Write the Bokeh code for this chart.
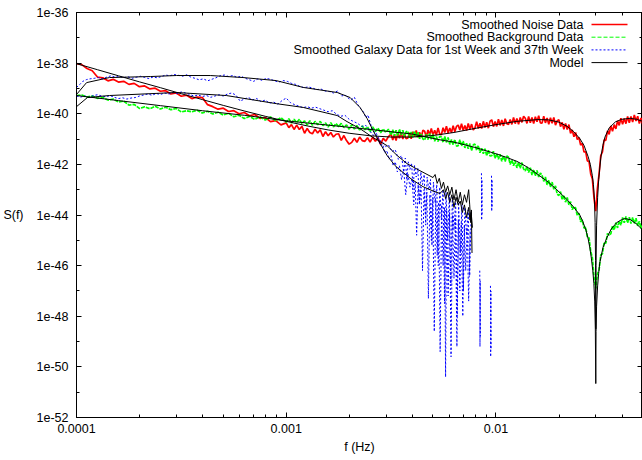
import numpy as np
from bokeh.plotting import figure
from bokeh.models import FixedTicker, Label, Arrow, LogAxis, Range1d
from bokeh.embed import file_html
from bokeh.resources import INLINE

nan = float("nan")

# ---------------- tick labels ----------------
x_tick_values = [1e-4, 1e-3, 1e-2]
x_tick_labels = ["0.0001", "0.001", "0.01"]
x_minor_ticks = [2e-4, 3e-4, 4e-4, 5e-4, 6e-4, 7e-4, 8e-4, 9e-4,
                 2e-3, 3e-3, 4e-3, 5e-3, 6e-3, 7e-3, 8e-3, 9e-3,
                 2e-2, 3e-2, 4e-2, 5e-2]
y_tick_values = [1e-36, 1e-38, 1e-40, 1e-42, 1e-44, 1e-46, 1e-48, 1e-50, 1e-52]
y_tick_labels = ["1e-36", "1e-38", "1e-40", "1e-42", "1e-44", "1e-46", "1e-48", "1e-50", "1e-52"]
y_minor_ticks = [1e-37, 1e-39, 1e-41, 1e-43, 1e-45, 1e-47, 1e-49, 1e-51]

series_names = ["Smoothed Noise Data", "Smoothed Background Data",
                "Smoothed Galaxy Data for 1st Week and 37th Week", "Model"]

# ---------------- smoothed data (log10 f, log10 S) ----------------
data_logf = [
    -4.000, -3.975, -3.950, -3.925, -3.900, -3.875, -3.850, -3.825, -3.800, -3.775,
    -3.750, -3.725, -3.700, -3.675, -3.650, -3.625, -3.600, -3.575, -3.550, -3.525,
    -3.500, -3.475, -3.450, -3.425, -3.400, -3.375, -3.350, -3.325, -3.300, -3.275,
    -3.250, -3.225, -3.200, -3.175, -3.150, -3.125, -3.100, -3.075, -3.050, -3.025,
    -3.0000, -2.9875, -2.9750, -2.9625, -2.9500, -2.9375, -2.9250, -2.9125, -2.9000, -2.8875,
    -2.8750, -2.8625, -2.8500, -2.8375, -2.8250, -2.8125, -2.8000, -2.7875, -2.7750, -2.7625,
    -2.7500, -2.7375, -2.7250, -2.7125, -2.7000, -2.6875, -2.6750, -2.6625, -2.6500, -2.6375,
    -2.6250, -2.6125, -2.6000, -2.5875, -2.5750, -2.5625, -2.5500, -2.5375, -2.5250, -2.5125,
    -2.500, -2.492, -2.484, -2.476, -2.468, -2.460, -2.452, -2.444, -2.436, -2.428,
    -2.420, -2.412, -2.404, -2.396, -2.388, -2.380, -2.372, -2.364, -2.356, -2.348,
    -2.340, -2.332, -2.324, -2.316, -2.308, -2.300, -2.292, -2.284, -2.276, -2.268,
    -2.260, -2.252, -2.244, -2.236, -2.228, -2.220, -2.212, -2.204, -2.196, -2.188,
    -2.180, -2.172, -2.164, -2.156, -2.148, -2.140, -2.132, -2.124, -2.116, -2.108,
    -2.100, -2.092, -2.084, -2.076, -2.068, -2.060, -2.052, -2.044, -2.036, -2.028,
    -2.020, -2.012, -2.004, -1.996, -1.988, -1.980, -1.972, -1.964, -1.956, -1.948,
    -1.940, -1.932, -1.924, -1.916, -1.908, -1.900, -1.892, -1.884, -1.876, -1.868,
    -1.860, -1.852, -1.844, -1.836, -1.828, -1.820, -1.812, -1.804, -1.796, -1.788,
    -1.780, -1.772, -1.764, -1.756, -1.748, -1.740, -1.732, -1.724, -1.716, -1.708,
    -1.700, -1.692, -1.684, -1.676, -1.668, -1.660, -1.652, -1.644, -1.636, -1.628,
    -1.620, -1.612, -1.604, -1.596, -1.588, -1.580, -1.572, -1.564, -1.556, -1.548,
    -1.540, -1.532, -1.524, -1.516, -1.508, -1.500, -1.492, -1.484, -1.476, -1.468,
    -1.460, -1.452, -1.444, -1.436, -1.428, -1.420, -1.412, -1.404, -1.396, -1.388,
    -1.380, -1.372, -1.364, -1.356, -1.348, -1.340, -1.332, -1.324, -1.316, -1.308,
    -1.300,
]

noise_logS = [
    -38.02, -38.06, -38.21, -38.30, -38.55, -38.58, -38.70, -38.64, -38.75, -38.72,
    -38.84, -38.80, -38.93, -38.90, -39.02, -38.99, -39.11, -39.09, -39.22, -39.18,
    -39.31, -39.27, -39.40, -39.34, -39.36, -39.64, -39.72, -39.82, -39.78, -39.91,
    -39.88, -40.00, -39.95, -40.08, -40.03, -40.18, -40.15, -40.31, -40.27, -40.44,
    -40.36, -40.55, -40.43, -40.62, -40.45, -40.62, -40.50, -40.77, -40.58, -40.74,
    -40.79, -40.61, -40.76, -40.63, -40.90, -40.71, -40.87, -40.74, -40.92, -40.81,
    -40.79, -41.05, -40.86, -41.06, -41.20, -41.13, -40.97, -41.13, -40.92, -41.06,
    -41.09, -40.95, -41.12, -40.92, -41.09, -40.95, -41.21, -40.97, -41.08, -40.90,
    -40.80, -41.04, -40.83, -41.06, -40.78, -40.97, -40.73, -41.00, -40.80, -40.99,
    -40.96, -40.75, -40.99, -40.71, -40.90, -40.66, -40.93, -40.73, -40.93, -40.65,
    -40.69, -40.92, -40.64, -40.83, -40.58, -40.85, -40.65, -40.84, -40.56, -40.80,
    -40.83, -40.55, -40.74, -40.49, -40.76, -40.56, -40.75, -40.47, -40.71, -40.50,
    -40.45, -40.64, -40.39, -40.66, -40.46, -40.66, -40.38, -40.62, -40.41, -40.64,
    -40.56, -40.31, -40.58, -40.38, -40.58, -40.30, -40.54, -40.34, -40.57, -40.29,
    -40.24, -40.51, -40.31, -40.50, -40.22, -40.46, -40.25, -40.48, -40.20, -40.39,
    -40.42, -40.23, -40.42, -40.15, -40.39, -40.19, -40.42, -40.15, -40.34, -40.10,
    -40.18, -40.38, -40.11, -40.36, -40.15, -40.39, -40.12, -40.32, -40.08, -40.36,
    -40.37, -40.10, -40.36, -40.17, -40.42, -40.16, -40.38, -40.15, -40.45, -40.28,
    -40.23, -40.51, -40.34, -40.61, -40.38, -40.62, -40.43, -40.77, -40.64, -40.91,
    -40.74, -41.02, -40.94, -41.24, -41.17, -41.51, -41.50, -41.86, -41.88, -42.38,
    -42.58, -43.35, -43.85, -42.95, -42.37, -41.65, -41.51, -41.03, -41.05, -40.68,
    -40.81, -40.48, -40.69, -40.43, -40.60, -40.28, -40.46, -40.18, -40.42, -40.19,
    -40.39, -40.11, -40.36, -40.11, -40.33, -40.05, -40.29, -40.10, -40.39, -40.17,
    -40.42,
]

background_logS = [
    -39.28, -39.26, -39.34, -39.30, -39.39, -39.36, -39.46, -39.42, -39.54, -39.50,
    -39.66, -39.63, -39.79, -39.73, -39.80, -39.70, -39.81, -39.74, -39.84, -39.79,
    -39.93, -39.88, -39.92, -39.86, -39.97, -39.90, -40.01, -39.94, -40.05, -39.98,
    -40.12, -40.06, -40.19, -40.11, -40.22, -40.12, -40.25, -40.13, -40.27, -40.16,
    -40.33, -40.20, -40.37, -40.22, -40.35, -40.22, -40.39, -40.28, -40.45, -40.27,
    -40.46, -40.30, -40.43, -40.30, -40.47, -40.36, -40.53, -40.35, -40.52, -40.39,
    -40.51, -40.38, -40.55, -40.44, -40.61, -40.43, -40.60, -40.47, -40.64, -40.48,
    -40.63, -40.52, -40.70, -40.52, -40.70, -40.57, -40.75, -40.60, -40.74, -40.61,
    -40.84, -40.63, -40.88, -40.65, -40.86, -40.61, -40.84, -40.65, -40.90, -40.71,
    -40.69, -40.95, -40.72, -40.93, -40.69, -40.92, -40.73, -40.99, -40.80, -41.00,
    -41.04, -40.81, -41.02, -40.78, -41.01, -40.82, -41.09, -40.90, -41.10, -40.89,
    -40.92, -41.13, -40.90, -41.13, -40.94, -41.21, -41.02, -41.22, -41.02, -41.28,
    -41.26, -41.03, -41.27, -41.08, -41.35, -41.17, -41.38, -41.18, -41.45, -41.23,
    -41.20, -41.44, -41.26, -41.54, -41.36, -41.58, -41.38, -41.66, -41.44, -41.67,
    -41.66, -41.48, -41.76, -41.58, -41.80, -41.60, -41.88, -41.66, -41.89, -41.67,
    -41.72, -42.00, -41.83, -42.05, -41.86, -42.14, -41.92, -42.15, -41.93, -42.18,
    -42.26, -42.09, -42.32, -42.13, -42.42, -42.21, -42.45, -42.24, -42.50, -42.34,
    -42.43, -42.67, -42.50, -42.81, -42.63, -42.89, -42.70, -42.98, -42.85, -43.17,
    -43.23, -43.08, -43.40, -43.22, -43.49, -43.31, -43.60, -43.47, -43.79, -43.67,
    -43.72, -44.02, -43.93, -44.27, -44.19, -44.52, -44.48, -44.88, -44.90, -45.43,
    -45.70, -46.47, -46.90, -46.34, -46.15, -45.58, -45.53, -45.08, -45.12, -44.73,
    -44.80, -44.74, -44.42, -44.59, -44.30, -44.51, -44.24, -44.40, -44.10, -44.31,
    -44.06, -44.31, -44.09, -44.34, -44.10, -44.34, -44.13, -44.43, -44.25, -44.54,
    -44.38,
]

# galaxy, week 1 (upper at low f)
galaxy1_logf = [
    -4.000, -3.985, -3.970, -3.952, -3.935, -3.915, -3.895, -3.875, -3.855, -3.835,
    -3.815, -3.795, -3.775, -3.755, -3.735, -3.715, -3.695, -3.675, -3.655, -3.635,
    -3.615, -3.595, -3.575, -3.555, -3.535, -3.515, -3.495, -3.475, -3.455, -3.435,
    -3.415, -3.395, -3.375, -3.355, -3.335, -3.315, -3.295, -3.275, -3.255, -3.235,
    -3.215, -3.195, -3.175, -3.155, -3.135, -3.115, -3.095, -3.075, -3.055, -3.035,
    -3.015, -2.995, -2.975, -2.955, -2.935, -2.915, -2.895, -2.875, -2.855, -2.835,
    -2.815, -2.795, -2.775, -2.755, -2.735, -2.720, -2.705, -2.690, -2.675, -2.660,
    -2.645, -2.630, -2.620, -2.610, -2.600, -2.590, -2.580, -2.570, -2.560, -2.550,
    -2.540, -2.530, -2.520, -2.510, -2.500, -2.490, -2.480, -2.470, -2.460, -2.450,
    -2.440, -2.430, -2.420, -2.410, -2.400, -2.392, -2.385, -2.378, -2.371, -2.364,
    -2.357, -2.350, -2.343, -2.336, -2.329, -2.322, -2.315, -2.308, -2.301, -2.294,
    -2.287, -2.280, -2.273, -2.266, -2.259, -2.252, -2.245, -2.240, -2.235, -2.228,
    -2.221, -2.214, -2.207, -2.200, -2.193, -2.186, -2.179, -2.172, -2.165, -2.158,
    -2.151, -2.144, -2.137, -2.130, -2.123, nan, -2.077, -2.076, -2.075, -2.074,
    nan, -2.026, -2.025, -2.024, -2.023,
]
galaxy1_logS = [
    -38.96, -38.85, -38.72, -38.65, -38.62, -38.60, -38.57, -38.62, -38.55, -38.50,
    -38.56, -38.52, -38.58, -38.54, -38.60, -38.56, -38.52, -38.57, -38.61, -38.55,
    -38.58, -38.53, -38.47, -38.50, -38.45, -38.48, -38.52, -38.46, -38.55, -38.60,
    -38.66, -38.62, -38.70, -38.64, -38.58, -38.50, -38.47, -38.53, -38.49, -38.56,
    -38.52, -38.60, -38.66, -38.72, -38.62, -38.68, -38.60, -38.64, -38.70, -38.75,
    -38.69, -38.72, -38.80, -38.84, -38.92, -38.97, -38.94, -38.98, -39.05, -39.02,
    -39.10, -39.12, -39.18, -39.10, -39.30, -39.25, -39.38, -39.45, -39.35, -39.62,
    -39.80, -39.95, -40.15, -40.05, -40.35, -40.60, -40.72, -40.85, -41.05, -41.25,
    -41.20, -41.55, -41.45, -41.80, -41.65, -42.05, -41.90, -42.30, -42.05, -42.60,
    -42.20, -43.20, -42.35, -42.90, -42.55, -43.60, -42.70, -44.80, -42.80, -43.50,
    -42.90, -46.20, -43.00, -44.00, -43.10, -47.30, -43.20, -45.00, -43.30, -48.60,
    -43.40, -45.60, -43.50, -49.40, -43.60, -46.00, -43.70, -50.40, -43.80, -47.20,
    -43.90, -49.60, -44.00, -46.50, -44.10, -49.20, -44.20, -47.00, -44.30, -48.00,
    -44.40, -46.20, -44.50, -47.40, -44.60, nan, -46.20, -49.20, -46.60, -48.80,
    nan, -46.80, -49.60, -47.00, -49.30,
]

# galaxy, week 37 (lower at low f)
galaxy37_logf = [
    -4.000, -3.980, -3.960, -3.940, -3.920, -3.900, -3.880, -3.860, -3.840, -3.820,
    -3.800, -3.780, -3.760, -3.740, -3.720, -3.700, -3.680, -3.660, -3.640, -3.620,
    -3.600, -3.580, -3.560, -3.540, -3.520, -3.500, -3.480, -3.460, -3.440, -3.420,
    -3.400, -3.380, -3.360, -3.340, -3.320, -3.300, -3.280, -3.260, -3.240, -3.220,
    -3.200, -3.180, -3.160, -3.140, -3.120, -3.100, -3.080, -3.060, -3.040, -3.020,
    -3.000, -2.980, -2.960, -2.940, -2.920, -2.900, -2.880, -2.860, -2.840, -2.820,
    -2.800, -2.780, -2.760, -2.740, -2.720, -2.700, -2.680, -2.660, -2.640, -2.620,
    -2.600, -2.585, -2.570, -2.555, -2.540, -2.525, -2.510, -2.495, -2.480, -2.465,
    -2.450, -2.440, -2.432, -2.425, -2.418, -2.410, -2.402, -2.395, -2.388, -2.380,
    -2.372, -2.365, -2.358, -2.350, -2.342, -2.335, -2.328, -2.320, -2.312, -2.305,
    -2.298, -2.290, -2.282, -2.275, -2.268, -2.260, -2.252, -2.245, -2.238, -2.230,
    -2.222, -2.215, -2.208, -2.200, -2.192, -2.185, -2.178, -2.170, -2.162, -2.155,
    -2.148, -2.140, -2.132, -2.125, -2.118, nan, -2.069, -2.068, -2.067, -2.066,
    nan, -2.021, -2.020, -2.019, -2.018,
]
galaxy37_logS = [
    -39.30, -39.34, -39.30, -39.36, -39.28, -39.25, -39.30, -39.33, -39.28, -39.35,
    -39.40, -39.37, -39.42, -39.38, -39.36, -39.30, -39.26, -39.22, -39.27, -39.20,
    -39.24, -39.18, -39.22, -39.16, -39.20, -39.14, -39.18, -39.24, -39.30, -39.26,
    -39.32, -39.28, -39.35, -39.30, -39.25, -39.30, -39.22, -39.18, -39.26, -39.50,
    -39.42, -39.36, -39.45, -39.40, -39.52, -39.46, -39.58, -39.54, -39.62, -39.48,
    -39.38, -39.56, -39.64, -39.70, -39.76, -39.72, -39.78, -39.74, -39.80, -39.86,
    -39.92, -39.88, -40.02, -40.10, -40.06, -40.22, -40.30, -40.38, -40.50, -40.46,
    -40.70, -40.85, -40.78, -41.05, -41.12, -41.30, -41.25, -41.50, -41.42, -41.80,
    -41.65, -42.30, -41.75, -42.60, -41.90, -42.20, -41.95, -43.00, -42.05, -42.50,
    -42.15, -43.60, -42.30, -42.80, -42.40, -44.40, -42.50, -43.00, -42.60, -45.20,
    -42.70, -43.50, -42.80, -46.00, -42.90, -44.20, -43.00, -47.50, -43.10, -45.00,
    -43.20, -46.80, -43.30, -44.60, -43.40, -48.00, -43.50, -45.50, -43.60, -47.00,
    -43.70, -44.80, -43.80, -46.40, -43.90, nan, -42.35, -44.20, -42.60, -44.00,
    nan, -42.45, -43.85, -42.60, -43.70,
]

# ---------------- model curves (log10 f, log10 S) ----------------
noise_model_logf = [
    -4.00, -3.90, -3.80, -3.70, -3.60, -3.50, -3.40, -3.30, -3.20, -3.10,
    -3.00, -2.90, -2.80, -2.70, -2.60, -2.50, -2.40, -2.30, -2.20, -2.10,
    -2.00, -1.90, -1.80, -1.75, -1.70, -1.66, -1.63, -1.60, -1.58, -1.56,
    -1.55, -1.54, -1.535, -1.53, -1.527, -1.525, -1.5238, -1.5225, -1.52, -1.515,
    -1.51, -1.50, -1.49, -1.48, -1.46, -1.43, -1.40, -1.36, -1.33, -1.30,
]
noise_model_logS = [
    -38.02, -38.26, -38.50, -38.74, -38.97, -39.21, -39.44, -39.67, -39.89, -40.10,
    -40.30, -40.48, -40.64, -40.77, -40.87, -40.92, -40.92, -40.86, -40.74, -40.58,
    -40.43, -40.30, -40.23, -40.24, -40.33, -40.50, -40.70, -40.98, -41.25, -41.70,
    -42.00, -42.45, -42.80, -43.40, -44.30, -45.80, -48.50, -46.00, -44.40, -43.30,
    -42.60, -41.75, -41.25, -40.92, -40.56, -40.32, -40.22, -40.18, -40.22, -40.30,
]

background_model_logf = [
    -4.00, -3.80, -3.60, -3.40, -3.20, -3.00, -2.80, -2.60, -2.40, -2.267,
    -2.20, -2.10, -2.00, -1.948, -1.90, -1.852, -1.80, -1.75, -1.71, -1.66,
    -1.633, -1.60, -1.586, -1.57, -1.56, -1.552, -1.545, -1.538, -1.533, -1.529,
    -1.526, -1.5238, -1.5225, -1.52, -1.515, -1.51, -1.505, -1.49, -1.471, -1.45,
    -1.424, -1.40, -1.386, -1.36, -1.33, -1.314, -1.30,
]
background_model_logS = [
    -39.28, -39.48, -39.68, -39.88, -40.06, -40.28, -40.45, -40.62, -40.80, -41.03,
    -41.12, -41.33, -41.58, -41.73, -41.88, -42.10, -42.40, -42.70, -43.00, -43.40,
    -43.65, -44.00, -44.25, -44.62, -44.95, -45.30, -45.70, -46.20, -46.70, -47.40,
    -48.50, -50.66, -48.60, -47.60, -46.80, -46.30, -45.90, -45.30, -44.90, -44.55,
    -44.30, -44.18, -44.14, -44.18, -44.35, -44.48, -44.58,
]

galaxy1_model_logf = [
    -4.000, -3.952, -3.843, -3.648, -3.524, -3.362, -3.205, -3.048, -2.919, -2.757,
    -2.695, -2.648, -2.614, -2.586, -2.552, -2.519, -2.481, -2.443, -2.400, -2.348,
    -2.300, -2.267, -2.250, -2.240, -2.230, -2.220, -2.210, -2.200, -2.190, -2.180,
    -2.170, -2.160, -2.150, -2.140, -2.130, -2.124, -2.118, -2.112,
]
galaxy1_model_logS = [
    -39.24, -38.77, -38.57, -38.53, -38.49, -38.49, -38.57, -38.69, -38.96, -39.16,
    -39.36, -39.75, -40.19, -40.66, -41.18, -41.65, -42.05, -42.32, -42.60, -42.88,
    -43.05, -43.15, -43.00, -43.35, -43.10, -43.50, -43.20, -43.70, -43.30, -43.60,
    -43.45, -43.90, -43.60, -44.10, -43.70, -44.20, -43.90, -44.50,
]

galaxy37_model_logf = [
    -4.000, -3.948, -3.843, -3.524, -3.286, -3.048, -2.919, -2.757, -2.710, -2.648,
    -2.586, -2.519, -2.471, -2.424, -2.362, -2.300, -2.290, -2.280, -2.270, -2.260,
    -2.250, -2.240, -2.230, -2.220, -2.210, -2.200, -2.190, -2.180, -2.170, -2.160,
    -2.150, -2.140, -2.130, -2.125, -2.120, -2.117, -2.114,
]
galaxy37_model_logS = [
    -39.72, -39.36, -39.28, -39.16, -39.28, -39.60, -39.75, -40.07, -40.31, -40.59,
    -40.94, -41.26, -41.65, -41.97, -42.25, -42.52, -42.40, -42.75, -42.55, -42.95,
    -42.70, -43.10, -42.85, -43.20, -42.90, -43.40, -43.00, -43.50, -43.10, -43.60,
    -43.20, -43.50, -43.00, -43.60, -44.30, -43.80, -45.50,
]


def lin(a):
    return np.power(10.0, np.array(a, dtype=float))


FONT = "Liberation Sans"
FS = "12.5px"

p = figure(frame_width=566, frame_height=405,
           min_border_left=76, min_border_right=0, min_border_top=12, min_border_bottom=43,
           x_axis_type="log", y_axis_type="log",
           x_range=Range1d(1e-4, 0.05), y_range=Range1d(1e-52, 1e-36),
           output_backend="svg", toolbar_location=None)
p.background_fill_color = "white"
p.border_fill_color = "white"
p.outline_line_color = "black"
p.xgrid.visible = False
p.ygrid.visible = False

xt = FixedTicker(ticks=x_tick_values, minor_ticks=x_minor_ticks)
yt = FixedTicker(ticks=y_tick_values, minor_ticks=y_minor_ticks)

xa = p.below[0]
ya = p.left[0]
for ax, t, vals, labs in ((xa, xt, x_tick_values, x_tick_labels), (ya, yt, y_tick_values, y_tick_labels)):
    ax.ticker = t
    ax.major_label_overrides = {v: l for v, l in zip(vals, labs)}
    ax.major_tick_in = 5
    ax.major_tick_out = 0
    ax.minor_tick_in = 3
    ax.minor_tick_out = 0
    ax.axis_line_color = "black"
    ax.major_tick_line_color = "black"
    ax.minor_tick_line_color = "black"
    ax.major_label_text_font = FONT
    ax.major_label_text_font_size = FS
    ax.major_label_text_color = "black"
    ax.axis_label_text_font = FONT
    ax.axis_label_text_font_size = FS
    ax.axis_label_text_font_style = "normal"
    ax.axis_label_text_color = "black"

xa.axis_label = "f (Hz)"
xa.major_label_standoff = 6
xa.axis_label_standoff = 4
ya.axis_label = "S(f)"
ya.axis_label_orientation = "horizontal"
ya.major_label_standoff = 8
ya.axis_label_standoff = 10

# mirror axes (ticks only)
for loc, t in (("above", xt), ("right", yt)):
    ax = LogAxis(ticker=t, major_tick_in=5, major_tick_out=0, minor_tick_in=3, minor_tick_out=0,
                 major_label_text_font_size="0px", major_label_standoff=0,
                 axis_line_color="black", major_tick_line_color="black", minor_tick_line_color="black")
    ax.major_label_overrides = {v: "" for v in t.ticks}
    p.add_layout(ax, loc)

f_data = lin(data_logf)
p.line(f_data, lin(noise_logS), line_color="#ff0000", line_width=1.7)
p.line(f_data, lin(background_logS), line_color="#00ff00", line_width=1.7, line_dash="4 1")
p.line(lin(galaxy1_logf), lin(galaxy1_logS), line_color="#0000ff", line_width=1, line_dash="2 2")
p.line(lin(galaxy37_logf), lin(galaxy37_logS), line_color="#0000ff", line_width=1, line_dash="2 2")
for fx, sy in ((noise_model_logf, noise_model_logS), (background_model_logf, background_model_logS),
               (galaxy1_model_logf, galaxy1_model_logS), (galaxy37_model_logf, galaxy37_model_logS)):
    p.line(lin(fx), lin(sy), line_color="black", line_width=1)

# gnuplot-style key: text right-aligned, sample to the right
key_styles = [dict(line_color="#ff0000", line_width=1.5),
              dict(line_color="#00ff00", line_width=1, line_dash="4 2"),
              dict(line_color="#0000ff", line_width=1, line_dash="2 2"),
              dict(line_color="black", line_width=1)]
top = 405 - 12
for i, (name, st) in enumerate(zip(series_names, key_styles)):
    yy = top - i * 12.7
    p.add_layout(Label(x=507, y=yy, x_units="screen", y_units="screen", text=name,
                       text_align="right", text_baseline="middle",
                       text_font=FONT, text_font_size=FS, text_color="black"))
    p.add_layout(Arrow(end=None, x_start=515, y_start=yy, x_end=551, y_end=yy,
                       start_units="screen", end_units="screen", **st))

open("out.html", "w").write(file_html(p, INLINE))
